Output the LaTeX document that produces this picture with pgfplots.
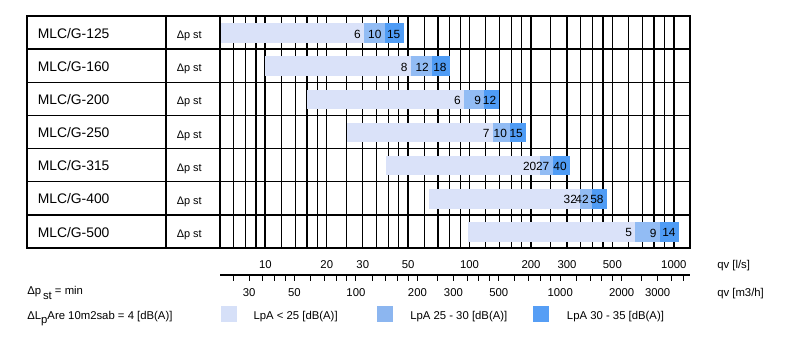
\documentclass[border=0pt]{standalone}
\usepackage{pgfplots}
\pgfplotsset{compat=1.18}
\usepackage{fontspec}
\setmainfont{Liberation Sans}
\definecolor{cL}{HTML}{DAE2F9}
\definecolor{cM}{HTML}{92BCF4}
\definecolor{cD}{HTML}{4F9CF5}
\definecolor{gL}{HTML}{D6E0F8}
\definecolor{gM}{HTML}{8CB6F0}
\definecolor{gD}{HTML}{569EF5}
% one row: y0 y1 start s1 s2 end lab1 lab2 lab3
\newcommand{\row}[9]{%
  \addplot[fill=cL,draw=none,forget plot] coordinates {(#3,#1) (#4,#1) (#4,#2) (#3,#2)} -- cycle;
  \addplot[fill=cM,draw=none,forget plot] coordinates {(#4,#1) (#5,#1) (#5,#2) (#4,#2)} -- cycle;
  \addplot[fill=cD,draw=none,forget plot] coordinates {(#5,#1) (#6,#1) (#6,#2) (#5,#2)} -- cycle;
  \node[lbl] at (axis cs:#4,{(#1+#2)/2+0.03}) {#7};
  \node[lbl] at (axis cs:#5,{(#1+#2)/2+0.03}) {#8};
  \node[lbl] at (axis cs:#6,{(#1+#2)/2+0.03}) {#9};
}
\begin{document}
\begin{tikzpicture}[x=0.75pt,y=0.75pt,
  lbl/.style={anchor=east,inner sep=0pt,xshift=-2.25pt,font=\fontsize{8.9}{10}\selectfont}]
\useasboundingbox (0,0) rectangle (800,353);
% chart region
\begin{axis}[at={(165pt,78.75pt)}, anchor=south west, scale only axis,
  width=352.5pt, height=174pt,
  xmode=log, xmin=6, xmax=1200, ymin=0, ymax=7, y dir=reverse,
  axis line style={draw=none},
  xtick={6,7,8,9,10,12,14,16,18,20,25,30,35,40,45,50,60,70,80,90,100,120,140,160,180,200,250,300,350,400,450,500,600,700,800,900,1000},
  xticklabel=\empty, ytick=\empty, major tick length=0pt,
  xmajorgrids, grid style={black,line width=0.9pt},
  extra x ticks={10,100,1000}, extra x tick labels={},
  extra x tick style={grid style={black,line width=1.3pt}},
  clip=false]
\row{0.22}{0.81}{6}{30.4}{38.4}{47.5}{6}{10}{15}
\row{1.22}{1.81}{10}{51.5}{65.5}{80}{8}{12}{18}
\row{2.22}{2.81}{16}{94}{118}{140}{6}{9}{12}
\row{3.22}{3.81}{25}{130}{158}{189}{7}{10}{15}
\row{4.22}{4.81}{39}{220}{255}{310}{20}{27}{40}
\row{5.22}{5.81}{63}{348}{397}{470}{32}{42}{58}
\row{6.22}{6.81}{98}{647}{853}{1057}{5}{9}{14}
\end{axis}
% table lines
\foreach \k in {1,...,6} \draw[line width=1pt] (27,{337-33.143*\k}) -- (690,{337-33.143*\k});
\draw[line width=1.1pt] (166,105) -- (166,337);
\draw[line width=1.5pt] (220,105) -- (220,337);
\draw[line width=1.7pt] (27,105) rectangle (690,337);
\foreach \n [count=\i] in {125,160,200,250,315,400,500} {
  \node[anchor=west,inner sep=0pt,font=\fontsize{10.4}{12}\selectfont] at (37.5,{353-(16+33.143*(\i-0.5)+0.7)}) {MLC/G-\n};
  \node[anchor=west,inner sep=0pt,font=\fontsize{8.2}{10}\selectfont] at (176.5,{353-(16+33.143*(\i-0.5)+3.4)}) {Δp st};
}
% m3/h scale
\begin{axis}[at={(165pt,58.5pt)}, anchor=south west, scale only axis,
  width=352.5pt, height=1pt,
  xmode=log, xmin=21.6, xmax=4320, ymin=0, ymax=1,
  axis x line*=bottom, axis y line=none,
  x axis line style={line width=1.5pt},
  xtick={30,50,100,200,300,500,1000,2000,3000},
  xticklabels={30,50,100,200,300,500,1000,2000,3000},
  minor xtick={25,35,40,45,60,70,80,90,120,140,160,180,250,350,400,450,600,700,800,900,1200,1400,1600,1800,2500,3500,4000},
  tick align=outside, major tick length=4.5pt, minor tick length=4.5pt,
  every tick/.style={black,line width=0.7pt},
  xticklabel style={font=\fontsize{8.5}{10}\selectfont, anchor=center, yshift=-8.5pt}]
\addplot[draw=none] coordinates {(100,0.5)};
\end{axis}
% l/s scale labels
\begin{axis}[at={(165pt,58.5pt)}, anchor=south west, scale only axis,
  width=352.5pt, height=1pt,
  xmode=log, xmin=6, xmax=1200, ymin=0, ymax=1,
  axis x line*=top, axis y line=none,
  x axis line style={draw=none},
  xtick={10,20,30,50,100,200,300,500,1000},
  xticklabels={10,20,30,50,100,200,300,500,1000},
  major tick length=0pt,
  xticklabel style={font=\fontsize{8.5}{10}\selectfont, anchor=center, yshift=6.5pt}]
\addplot[draw=none] coordinates {(100,0.5)};
\end{axis}
\begin{scope}[font=\fontsize{8.5}{10}\selectfont]
\node[anchor=base west,inner sep=0pt] at (717,84) {qv [l/s]};
\node[anchor=base west,inner sep=0pt] at (717,56) {qv [m3/h]};
\node[anchor=base west,inner sep=0pt] at (27,58.5) {Δp\,\raisebox{-3.75pt}{st} = min};
\node[anchor=base west,inner sep=0pt] at (27,33.5) {ΔL\raisebox{-3pt}{p}Are 10m2sab = 4 [dB(A)]};
\fill[gL] (221,31) rectangle (237,47);
\fill[gM] (376.7,31) rectangle (393.3,47);
\fill[gD] (532.7,31) rectangle (549.3,47);
\node[anchor=base west,inner sep=0pt] at (253.3,33.5) {LpA < 25 [dB(A)]};
\node[anchor=base west,inner sep=0pt] at (410,33.5) {LpA 25 - 30 [dB(A)]};
\node[anchor=base west,inner sep=0pt] at (566.7,33.5) {LpA 30 - 35 [dB(A)]};
\end{scope}
\end{tikzpicture}
\end{document}
